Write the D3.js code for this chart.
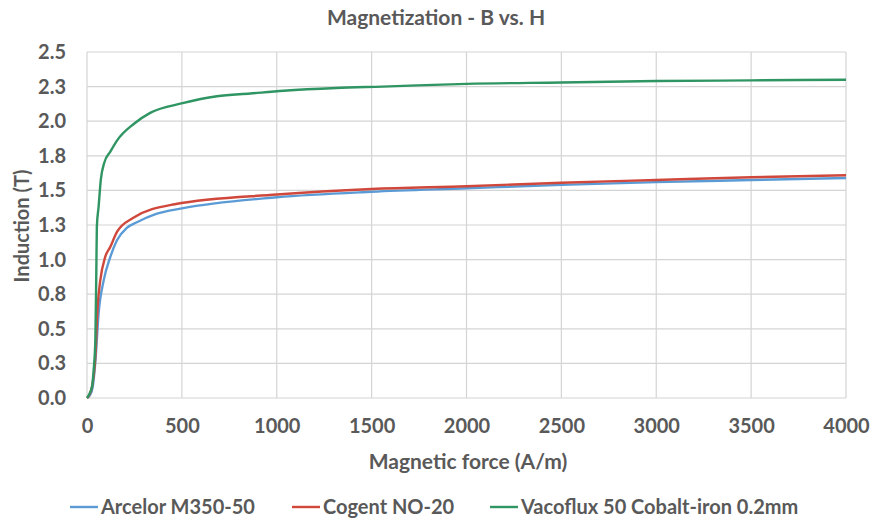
<!DOCTYPE html>
<html>
<head>
<meta charset="utf-8">
<script src="https://cdn.jsdelivr.net/npm/d3@7"></script>
<style>
  html, body { margin: 0; padding: 0; background: #fff; }
  svg text { font-family: Lato, "Open Sans", sans-serif; font-weight: bold; fill: #595959; }
</style>
</head>
<body>
<svg id="chart" width="874" height="520"></svg>
<script>
// ---- data ----
const title = "Magnetization - B vs. H";
const xLabel = "Magnetic force (A/m)";
const yLabel = "Induction (T)";
const xTicks = [0, 500, 1000, 1500, 2000, 2500, 3000, 3500, 4000];
const yTicks = [0, 0.25, 0.5, 0.75, 1.0, 1.25, 1.5, 1.75, 2.0, 2.25, 2.5];
const seriesNames = ["Arcelor M350-50", "Cogent NO-20", "Vacoflux 50 Cobalt-iron 0.2mm"];
const seriesColors = ["#5b9bd5", "#d0483c", "#2f9562"];

const arcelorH = [0, 15, 30, 45, 61, 88, 123, 158, 210, 263, 365, 500, 1000, 1500, 2000, 2500, 3000, 3500, 4000];
const arcelorB = [0, 0.02, 0.08, 0.28, 0.61, 0.85, 1.02, 1.14, 1.23, 1.27, 1.33, 1.37, 1.45, 1.49, 1.515, 1.54, 1.56, 1.575, 1.59];

const cogentH = [0, 15, 26, 44, 56, 70, 96, 122, 158, 242, 462, 1000, 1500, 2000, 2500, 3000, 3500, 4000];
const cogentB = [0, 0.03, 0.08, 0.30, 0.66, 0.85, 1.02, 1.09, 1.20, 1.30, 1.40, 1.47, 1.51, 1.53, 1.555, 1.575, 1.595, 1.61];

const vacofluxH = [0, 9, 26, 35, 44, 49, 52, 61, 73, 91, 123, 158, 246, 333, 504, 685, 860, 1036, 1313, 1557, 2000, 2500, 3000, 3500, 4000];
const vacofluxB = [0, 0.02, 0.08, 0.2, 0.42, 0.9, 1.24, 1.38, 1.58, 1.70, 1.78, 1.86, 1.98, 2.06, 2.13, 2.18, 2.20, 2.22, 2.24, 2.25, 2.27, 2.28, 2.29, 2.295, 2.30];

const seriesH = [arcelorH, cogentH, vacofluxH];
const seriesB = [arcelorB, cogentB, vacofluxB];

// ---- layout ----
const svg = d3.select("#chart");
const plotLeft = 87, plotRight = 846, plotTop = 52, plotBottom = 398;

const x = d3.scaleLinear().domain([0, 4000]).range([plotLeft, plotRight]);
const y = d3.scaleLinear().domain([0, 2.5]).range([plotBottom, plotTop]);

// grid
const grid = svg.append("g");
grid.selectAll("line.h").data(yTicks).join("line")
  .attr("x1", plotLeft).attr("x2", plotRight)
  .attr("y1", d => y(d)).attr("y2", d => y(d))
  .attr("stroke", "#d4d4d4").attr("stroke-width", 1.2);
grid.selectAll("line.v").data(xTicks).join("line")
  .attr("y1", plotTop).attr("y2", plotBottom)
  .attr("x1", d => x(d)).attr("x2", d => x(d))
  .attr("stroke", "#d4d4d4").attr("stroke-width", 1.2);

// axes (labels only)
const yAxis = d3.axisLeft(y).tickValues(yTicks).tickFormat(d3.format(".1f")).tickSize(0).tickPadding(21);
const gy = svg.append("g").attr("transform", `translate(${plotLeft},0)`).call(yAxis);
gy.select(".domain").remove();
gy.selectAll("text").style("font-size", "20px");

const xAxis = d3.axisBottom(x).tickValues(xTicks).tickFormat(d3.format("d")).tickSize(0).tickPadding(21);
const gx = svg.append("g").attr("transform", `translate(0,${plotBottom})`).call(xAxis);
gx.select(".domain").remove();
gx.selectAll("text").style("font-size", "20px");

// lines
const line = d3.line().x(d => x(d[0])).y(d => y(d[1])).curve(d3.curveMonotoneX);
seriesH.forEach((hs, i) => {
  const pts = hs.map((h, j) => [h, seriesB[i][j]]);
  svg.append("path").datum(pts)
    .attr("fill", "none")
    .attr("stroke", seriesColors[i])
    .attr("stroke-width", 2.4)
    .attr("stroke-linejoin", "round")
    .attr("d", line);
});

// title & axis labels
svg.append("text").attr("x", 436).attr("y", 25).attr("text-anchor", "middle")
  .style("font-size", "21px").text(title);
svg.append("text").attr("x", 468).attr("y", 469).attr("text-anchor", "middle")
  .style("font-size", "21px").text(xLabel);
svg.append("text").attr("transform", "translate(29,226) rotate(-90)").attr("text-anchor", "middle")
  .style("font-size", "20px").text(yLabel);

// legend
const legendX = [70, 292, 490];
const lg = svg.append("g");
seriesNames.forEach((name, i) => {
  lg.append("line").attr("x1", legendX[i]).attr("x2", legendX[i] + 28)
    .attr("y1", 507).attr("y2", 507)
    .attr("stroke", seriesColors[i]).attr("stroke-width", 2.4);
  lg.append("text").attr("x", legendX[i] + 31).attr("y", 514)
    .style("font-size", "20px").text(name);
});
</script>
</body>
</html>
